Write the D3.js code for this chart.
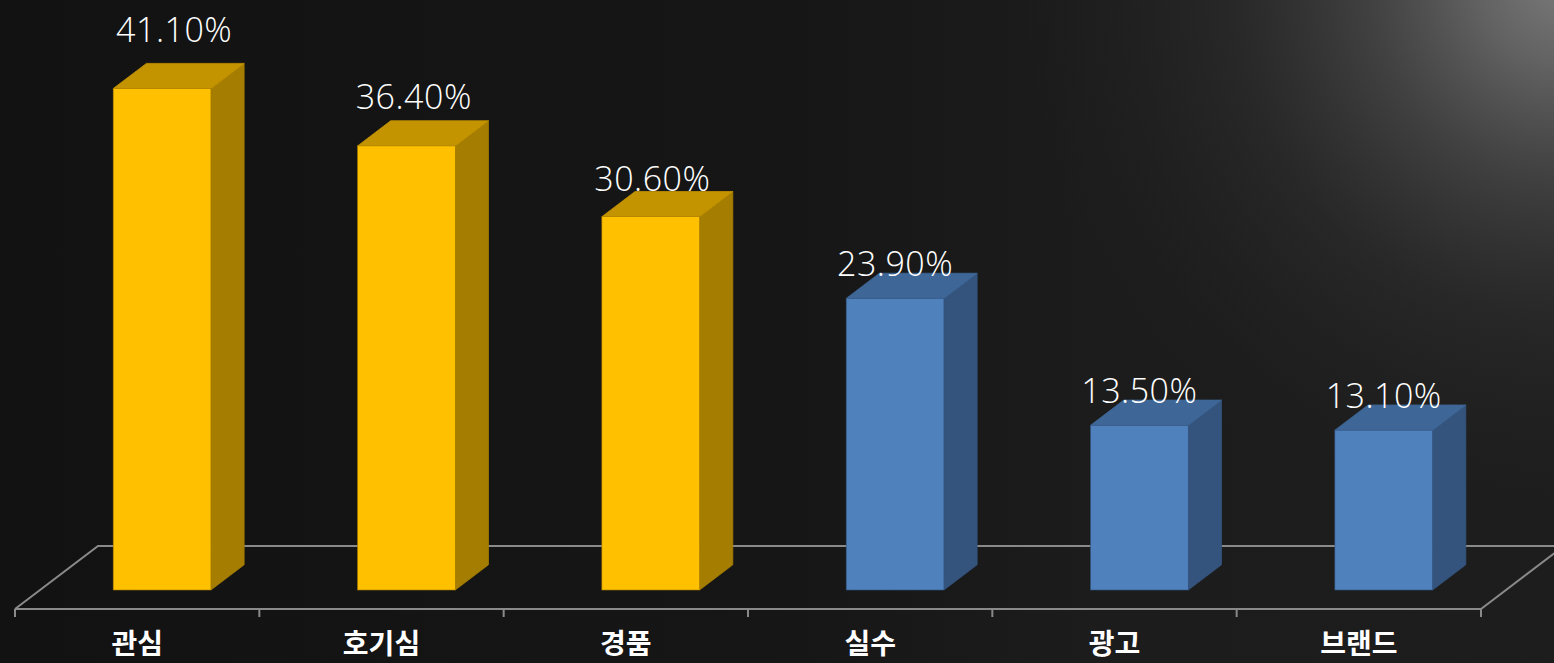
<!DOCTYPE html>
<html><head><meta charset="utf-8">
<script src="https://cdn.jsdelivr.net/npm/d3@7"></script>
<style>html,body{margin:0;padding:0;background:#141414;overflow:hidden}</style>
</head><body>
<svg id="c" width="1554" height="663"></svg>
<script>
const categories = ['관심','호기심','경품','실수','광고','브랜드'];
const values = [41.1, 36.4, 30.6, 23.9, 13.5, 13.1];
const colorGroup = ['gold','gold','gold','blue','blue','blue'];

const palette = {
  gold: {front:'#FFC000', top:'#C49300', side:'#A57D00'},
  blue: {front:'#4F81BD', top:'#3E6797', side:'#34547E'}
};

const W = 1554, H = 663;
const svg = d3.select('#c');
const defs = svg.append('defs');
const lg = defs.append('linearGradient').attr('id','bg').attr('x1','0').attr('x2','1').attr('y1','0').attr('y2','0');
lg.append('stop').attr('offset','0').attr('stop-color','#121212');
lg.append('stop').attr('offset','0.5').attr('stop-color','#161616');
lg.append('stop').attr('offset','0.7').attr('stop-color','#1c1c1c');
lg.append('stop').attr('offset','1').attr('stop-color','#1d1d1d');
const rg = defs.append('radialGradient').attr('id','glow').attr('gradientUnits','userSpaceOnUse')
  .attr('cx',W+10).attr('cy',-20).attr('r',560);
rg.append('stop').attr('offset','0').attr('stop-color','#7a7a7a').attr('stop-opacity',1);
rg.append('stop').attr('offset','0.15').attr('stop-color','#666').attr('stop-opacity',0.95);
rg.append('stop').attr('offset','0.35').attr('stop-color','#4a4a4a').attr('stop-opacity',0.8);
rg.append('stop').attr('offset','0.6').attr('stop-color','#333').attr('stop-opacity',0.5);
rg.append('stop').attr('offset','0.85').attr('stop-color','#262626').attr('stop-opacity',0.2);
rg.append('stop').attr('offset','1').attr('stop-color','#1d1d1d').attr('stop-opacity',0);
svg.append('rect').attr('width',W).attr('height',H).attr('fill','url(#bg)');
svg.append('rect').attr('width',W).attr('height',H).attr('fill','url(#glow)');

// scales
const floorY = 609, DX = 83, DY = 63;   // floor depth projection
const x = d3.scaleBand().domain(categories).range([15, 1481]).padding(0);
const y = d3.scaleLinear().domain([0, 45]).range([590, 41]);
const bw = x.bandwidth();
const barW = bw * 0.4;
const shiftX = DX * 0.3, depthX = DX * 0.4, depthY = DY * 0.4;

// floor
const g = svg.append('g');
const lineCol = '#8a8a8a';
g.append('path')
  .attr('d', `M15,${floorY} L${15+DX},${floorY-DY} L${W+10},${floorY-DY}`)
  .attr('fill','none').attr('stroke',lineCol).attr('stroke-width',2);
g.append('path')
  .attr('d', `M15,${floorY} L1481,${floorY} L${1481+DX},${floorY-DY}`)
  .attr('fill','none').attr('stroke',lineCol).attr('stroke-width',2);
const bounds = categories.map(c => x(c)).concat([x.range()[1]]);
g.selectAll('line.tk').data(bounds).join('line').attr('class','tk')
  .attr('x1', d => d).attr('x2', d => d).attr('y1', floorY).attr('y2', floorY + 8)
  .attr('stroke', lineCol).attr('stroke-width', 2);

// bars
const data = categories.map((c,i) => ({c, v: values[i], col: palette[colorGroup[i]]}));
const bars = svg.append('g').selectAll('g').data(data).join('g');
bars.each(function(d){
  const gg = d3.select(this);
  const x0 = x(d.c) + bw/2 + shiftX - barW/2, x1 = x0 + barW;
  const yt = y(d.v), yb = y(0);
  gg.append('path').attr('d', `M${x1},${yt} L${x1+depthX},${yt-depthY} L${x1+depthX},${yb-depthY} L${x1},${yb} Z`)
    .attr('fill', d.col.side).attr('stroke', d.col.side).attr('stroke-width',0.8);
  gg.append('path').attr('d', `M${x0},${yt} L${x0+depthX},${yt-depthY} L${x1+depthX},${yt-depthY} L${x1},${yt} Z`)
    .attr('fill', d.col.top).attr('stroke', d.col.top).attr('stroke-width',0.8);
  gg.append('rect').attr('x', x0).attr('y', yt).attr('width', barW).attr('height', yb - yt)
    .attr('fill', d.col.front).attr('stroke', d.col.side).attr('stroke-width',0.6);
});

// value labels
const fmt = v => d3.format('.2f')(v) + '%';
svg.append('g').selectAll('text').data(data).join('text')
  .attr('x', d => x(d.c) + bw/2 + shiftX + Math.max(0, d.v - 29))
  .attr('y', d => y(d.v) - 22 - 2.05 * Math.max(0, d.v - 29))
  .attr('text-anchor','middle')
  .attr('font-family','"Open Sans", Lato, sans-serif')
  .attr('font-weight', 300)
  .attr('font-size', 34)
  .attr('letter-spacing', 0.5)
  .attr('fill','#ffffff')
  .text(d => fmt(d.v));

// category axis
const ax = svg.append('g').attr('transform', `translate(0,${floorY})`)
  .call(d3.axisBottom(x).tickSize(0).tickPadding(0));
ax.select('.domain').remove();
ax.selectAll('text')
  .attr('y', 45)
  .attr('dy', 0)
  .attr('font-family','"Noto Sans CJK KR", sans-serif')
  .attr('font-weight', 600)
  .attr('font-size', 28)
  .attr('fill','#ffffff');
</script>
</body></html>
